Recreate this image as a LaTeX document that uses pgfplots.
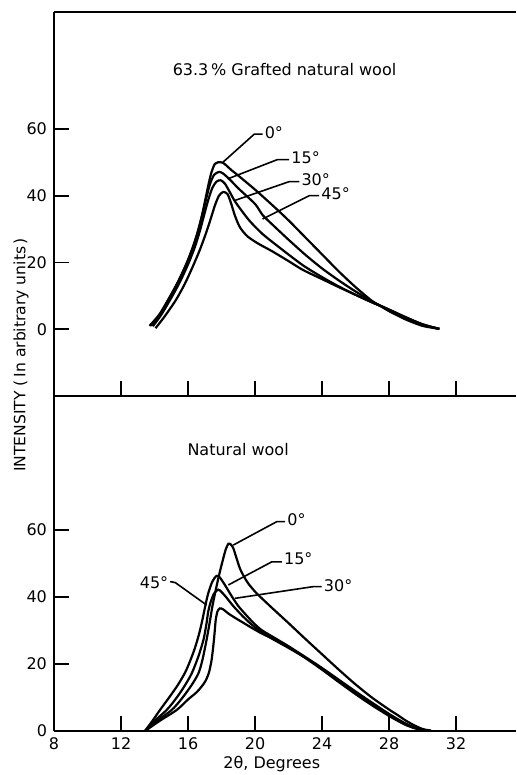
\documentclass[border=0pt]{standalone}
\usepackage{fontspec}
\setmainfont{DejaVu Sans}
\usepackage{pgfplots}
\pgfplotsset{compat=1.18}
\tikzset{curve/.style={black,line width=1.1pt,smooth,tension=0.45},
  lead/.style={black,line width=0.8pt}}
\pgfplotsset{panel/.style={scale only axis,width=231.2pt,xmin=8,xmax=35.6,
  axis y line*=left,axis line style={-,line width=1pt},
  tick style={black,line width=0.9pt},major tick length=7.5pt,tick align=inside,
  tick label style={font=\fontsize{8}{9}\selectfont},
  /pgf/number format/assume math mode=true}}
\begin{document}
\begin{tikzpicture}[font=\fontsize{8}{9}\selectfont]
\useasboundingbox (-27pt,-22pt) rectangle (231.5pt,365.5pt);
% lower panel: natural wool
\begin{axis}[panel,at={(0pt,0pt)},anchor=south west,height=167.5pt,
  ymin=0,ymax=100,axis x line*=bottom,
  xtick={8,12,...,32},ytick={0,20,40,60},
  xlabel={2θ, Degrees},
  every axis x label/.style={at={(axis description cs:0.471,0)},anchor=center,yshift=-16.5pt}]
% 0 deg
\addplot[curve] coordinates {(13.43,0) (14.2,3.2) (15.03,6.3) (15.6,9.5) (16.2,13.6) (16.62,17.2) (16.85,21) (17.08,26.5) (17.28,32) (17.45,37.1) (17.65,42) (17.85,46.5) (18.05,50.5) (18.25,54.2) (18.41,55.9) (18.55,55.7) (18.7,54.6) (18.9,51.5) (19.1,48.5) (19.35,46) (19.6,44) (20.0,41.6) (20.3,40.1) (21,36.8) (22,32.2) (23,27.5) (24,22.9) (25,18.3) (26,13.9) (27,9.9) (28,6.4) (28.5,4.8) (29,3.1) (29.5,1.7) (30,0.6) (30.5,0.1)};
% 15 deg
\addplot[curve] coordinates {(13.43,0) (13.9,3.2) (14.33,6.3) (14.9,10.2) (15.4,13.8) (15.82,17.4) (16.1,20.6) (16.4,24.6) (16.65,28.8) (16.85,33) (17.02,37.1) (17.2,41.0) (17.45,44.6) (17.7,46.3) (17.9,45.8) (18.2,43.6) (18.6,40.3) (19.0,37.3) (19.4,35.0) (19.9,32.3) (20.4,30.1) (21.2,27.7) (22,25.3) (23,22.1) (24,18.8) (25,15.3) (26,11.8) (27,8.4) (28,5.1) (28.5,3.6) (29,2.2) (29.5,1.1) (30,0.4) (30.5,0.05)};
% 30 deg
\addplot[curve] coordinates {(13.43,0) (14.0,3.0) (14.73,6.3) (15.3,9.8) (15.8,13.5) (16.22,17.2) (16.6,22) (16.92,27.2) (17.1,32) (17.2,35.5) (17.35,38.5) (17.55,41) (17.8,42.2) (18.0,41.5) (18.3,39.8) (18.7,37.3) (19.2,34.6) (19.7,32.2) (20.3,29.8) (21,27.6) (22,24.8) (23,21.9) (24,18.6) (25,15.0) (26,11.4) (27,8.0) (28,4.7) (28.5,3.2) (29,1.9) (29.5,0.9) (30,0.3) (30.5,0)};
% 45 deg
\addplot[curve] coordinates {(13.43,0) (14.3,3.0) (15.33,6.3) (16.02,9.5) (16.5,11.5) (16.8,13.2) (17.05,15.0) (17.25,17.5) (17.4,21) (17.5,25) (17.58,29) (17.65,33) (17.75,35.6) (17.9,36.6) (18.1,36.3) (18.4,35.1) (18.8,33.8) (19.2,32.6) (19.8,30.8) (20.4,29.1) (21.2,27.2) (22,25.0) (23,21.8) (24,18.3) (25,14.6) (26,11.0) (27,7.6) (28,4.5) (28.5,3.1) (29,1.8) (29.5,0.9) (30,0.3) (30.5,0)};
\node at (axis cs:18.99,83.9) {Natural wool};
\draw[lead] (axis cs:21.8,62.5) -- (axis cs:21.3,62.5) -- (axis cs:18.7,55.5);
\node[anchor=west,inner sep=0.5pt] at (axis cs:21.85,63.2) {0°};
\draw[lead] (axis cs:21.6,50.5) -- (axis cs:21.0,50.5) -- (axis cs:18.41,43.6);
\node[anchor=west,inner sep=0.5pt] at (axis cs:21.65,51.3) {15°};
\draw[lead] (axis cs:23.98,43.1) -- (axis cs:23.48,43.1) -- (axis cs:18.8,39.6);
\node[anchor=west,inner sep=0.5pt] at (axis cs:24.03,43.3) {30°};
\draw[lead] (axis cs:14.93,44.6) -- (axis cs:15.24,44.3) -- (axis cs:17.11,37.6);
\node[anchor=east,inner sep=0.5pt] at (axis cs:14.9,44.3) {45°};
\end{axis}
% upper panel: grafted wool
\begin{axis}[panel,at={(0pt,167.5pt)},anchor=south west,height=192pt,
  ymin=-20,ymax=95,axis x line*=box,xtick pos=left,
  xtick={12,16,...,32},xticklabels={},ytick={0,20,40,60}]
% 0 deg
\addplot[curve] coordinates {(13.7,1.0) (14.3,4.5) (14.9,9.6) (15.4,14.2) (15.9,19.6) (16.3,24.8) (16.6,29.6) (16.85,34.5) (17.06,39.5) (17.25,44) (17.4,47) (17.6,49.5) (17.8,50.0) (18.1,49.8) (18.6,47.6) (19,46.0) (20,41.8) (21,37.3) (22,32.6) (23,27.5) (24,22.4) (25,17.3) (26,12.6) (27,8.4) (27.5,6.9) (28,5.4) (29,2.9) (30,1.0) (31,0.1)};
% 15 deg
\addplot[curve] coordinates {(13.8,1.0) (14.3,4.3) (14.9,9.4) (15.4,14.0) (15.9,19.4) (16.3,24.5) (16.6,29.3) (16.85,34.2) (17.08,39.0) (17.3,43.3) (17.55,46.2) (17.85,47.1) (18.1,46.6) (18.5,44.8) (19,42.2) (20,37.5) (20.45,34.2) (21,31.5) (22,26.8) (23,22.3) (24,18.2) (25,14.6) (26,11.3) (27,8.3) (27.5,7.0) (28,5.7) (29,3.3) (30,1.3) (31,0.1)};
% 30 deg
\addplot[curve] coordinates {(13.9,0.9) (14.4,4.3) (15,9.4) (15.5,14.0) (16,19.4) (16.4,24.5) (16.7,29.3) (16.95,34) (17.2,38.6) (17.45,42.3) (17.7,44.2) (17.95,44.6) (18.2,43.6) (18.5,41) (18.8,38.3) (19.2,35.5) (19.7,32.3) (20.45,28.5) (21.5,24.3) (22.84,19.2) (24,15.6) (25,12.8) (26,10.3) (27,8.0) (27.5,7.0) (28,5.9) (29,3.6) (30,1.5) (31,0.1)};
% 45 deg
\addplot[curve] coordinates {(14.06,0.3) (14.6,3.8) (15.27,8.7) (15.8,13.5) (16.27,18.6) (16.7,23.7) (17.06,28.6) (17.35,33) (17.6,37) (17.85,40) (18.1,41.1) (18.35,40.5) (18.55,38) (18.8,34) (19.1,30.5) (19.55,27.8) (20.2,25.6) (21,23.4) (22,20.4) (22.84,17.8) (24,15.0) (25,12.6) (26,10.3) (27,8.0) (27.5,6.9) (28,5.8) (29,3.5) (30,1.4) (31,0.1)};
\node at (axis cs:21.76,77.9) {63.3\,\% Grafted natural wool};
\draw[lead] (axis cs:20.45,58.4) -- (axis cs:19.95,58.4) -- (axis cs:18.06,49.9);
\node[anchor=west,inner sep=0.5pt] at (axis cs:20.5,58.9) {0°};
\draw[lead] (axis cs:22.04,50.8) -- (axis cs:21.34,50.8) -- (axis cs:18.36,45);
\node[anchor=west,inner sep=0.5pt] at (axis cs:22.09,51.3) {15°};
\draw[lead] (axis cs:22.64,44.2) -- (axis cs:22.04,44.2) -- (axis cs:18.76,38.5);
\node[anchor=west,inner sep=0.5pt] at (axis cs:22.69,44.9) {30°};
\draw[lead] (axis cs:23.83,40) -- (axis cs:23.24,40) -- (axis cs:20.45,33);
\node[anchor=west,inner sep=0.5pt] at (axis cs:23.88,40.7) {45°};
\end{axis}
\node[rotate=90,font=\fontsize{7.8}{9}\selectfont] at (-16.5pt,188pt) {INTENSITY\ (\,In arbitrary units\,)};
\end{tikzpicture}
\end{document}
